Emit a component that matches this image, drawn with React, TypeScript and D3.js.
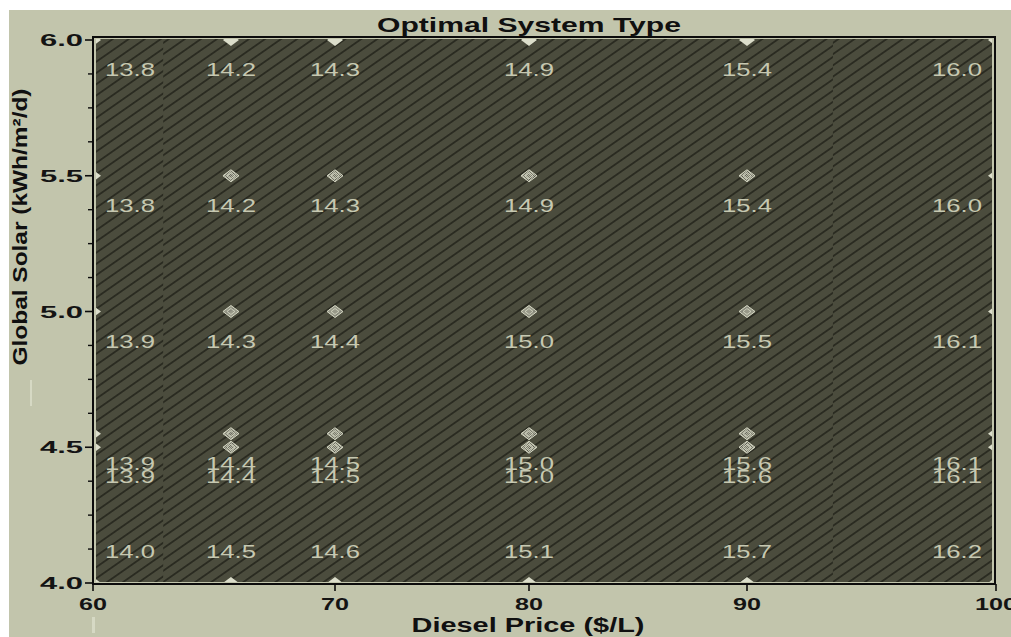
import React, { useEffect } from "react";
import * as d3 from "d3";

// ---- data ----
const dieselPrices = [60, 65.7, 70, 80, 90, 100];
const solarLevels = [6.0, 5.5, 5.0, 4.55, 4.5, 4.0];
const costAtSolar60 = [13.8, 14.2, 14.3, 14.9, 15.4, 16.0];
const costAtSolar55 = [13.8, 14.2, 14.3, 14.9, 15.4, 16.0];
const costAtSolar50 = [13.9, 14.3, 14.4, 15.0, 15.5, 16.1];
const costAtSolar455 = [13.9, 14.4, 14.5, 15.0, 15.6, 16.1];
const costAtSolar45 = [13.9, 14.4, 14.5, 15.0, 15.6, 16.1];
const costAtSolar40 = [14.0, 14.5, 14.6, 15.1, 15.7, 16.2];
const costRows = [costAtSolar60, costAtSolar55, costAtSolar50, costAtSolar455, costAtSolar45, costAtSolar40];
const xTickValues = [60, 70, 80, 90, 100];
const yTickValues = [4.0, 4.5, 5.0, 5.5, 6.0];
const hatchBreaks = [62.9, 93.45];
const titleText = "Optimal System Type";
const xLabelText = "Diesel Price ($/L)";
const yLabelText = "Global Solar (kWh/m\u00b2/d)";

const W = 1011;
const H = 637;
const FONT = "Arial, 'Liberation Sans', sans-serif";

export default function App() {
  useEffect(() => {
    document.body.style.margin = "0";
  }, []);

  const x = d3.scaleLinear().domain(xTickValues).range([93, 335, 529, 747, 996]);
  const y = d3.scaleLinear().domain([4, 6]).range([583, 40]);

  const frame = { l: 93, r: 995, t: 37, b: 584 };
  const fill = { l: 96, r: 992, t: 39, b: 582 };

  const yMinor = d3.range(4, 6.0001, 0.125).filter((v) => !yTickValues.some((t) => Math.abs(t - v) < 1e-6));

  const regionEdges = [fill.l, ...hatchBreaks.map((v) => x(v)), fill.r];
  const regionOffsets = [0, 8, 4];

  const diamond = "M0,-6L8,0L0,6L-8,0Z";
  const innerDiamond = "M0,-3L4,0L0,3L-4,0Z";

  const points: { xv: number; yv: number; val: number }[] = [];
  solarLevels.forEach((s, i) => {
    dieselPrices.forEach((p, j) => {
      points.push({ xv: p, yv: s, val: costRows[i][j] });
    });
  });

  const xMin = d3.min(dieselPrices)!;
  const xMax = d3.max(dieselPrices)!;
  const yMin = d3.min(solarLevels)!;
  const yMax = d3.max(solarLevels)!;

  return (
    <svg width={W} height={H} style={{ display: "block", background: "#ffffff" }} fontFamily={FONT}>
      <defs>
        {regionOffsets.map((off, i) => (
          <pattern
            key={i}
            id={`hatch${i}`}
            patternUnits="userSpaceOnUse"
            width={9.2}
            height={10}
            patternTransform={`translate(${off},0) rotate(55)`}
          >
            <line x1={4.6} y1={-1} x2={4.6} y2={11} stroke="#16160f" strokeWidth={1.15} />
          </pattern>
        ))}
        <pattern id="dots" patternUnits="userSpaceOnUse" width={2} height={2}>
          <rect x={0} y={0} width={1} height={1} fill="#e2e3d2" />
          <rect x={1} y={1} width={1} height={1} fill="#e2e3d2" />
        </pattern>
        <clipPath id="plotClip">
          <rect x={fill.l} y={fill.t} width={fill.r - fill.l} height={fill.b - fill.t} />
        </clipPath>
      </defs>

      {/* panel background */}
      <rect x={9} y={10} width={W - 9} height={H - 10} fill="#c2c5ac" />
      <rect x={30} y={380} width={2} height={26} fill="#d6d9c4" />
      <rect x={92} y={617} width={3} height={16} fill="#d6d9c4" />

      {/* title */}
      <text
        x={529}
        y={32}
        textAnchor="middle"
        fontSize={21}
        fontWeight="bold"
        fill="#101010"
        textLength={304}
        lengthAdjust="spacingAndGlyphs"
      >
        {titleText}
      </text>

      {/* plot fill with hatch regions */}
      <rect x={fill.l} y={fill.t} width={fill.r - fill.l} height={fill.b - fill.t} fill="#4b4c3d" />
      {regionOffsets.map((_, i) => (
        <rect
          key={i}
          x={regionEdges[i]}
          y={fill.t}
          width={regionEdges[i + 1] - regionEdges[i]}
          height={fill.b - fill.t}
          fill={`url(#hatch${i})`}
        />
      ))}

      {/* markers */}
      <g clipPath="url(#plotClip)">
        {points.map((p, i) => {
          const onEdge = p.xv === xMin || p.xv === xMax || p.yv === yMin || p.yv === yMax;
          return (
            <g key={i} transform={`translate(${x(p.xv)},${y(p.yv)})`}>
              {onEdge ? (
                <path d={diamond} fill="#dcdecb" />
              ) : (
                <>
                  <path d={diamond} fill="url(#dots)" stroke="#d8dac6" strokeWidth={1} />
                  <path d={innerDiamond} fill="none" stroke="#d8dac6" strokeWidth={0.8} />
                </>
              )}
            </g>
          );
        })}
      </g>

      {/* value labels */}
      <g>
        {points.map((p, i) => {
          const px = Math.min(Math.max(x(p.xv), frame.l + 37), frame.r - 38);
          const base = y(p.yv) + 36 > fill.b - 10 ? y(p.yv) - 25 : y(p.yv) + 36;
          return (
            <text
              key={i}
              x={px}
              y={base}
              textAnchor="middle"
              fontSize={19}
              fill="#c6c8b1"
              textLength={50}
              lengthAdjust="spacingAndGlyphs"
            >
              {p.val.toFixed(1)}
            </text>
          );
        })}
      </g>

      {/* frame */}
      <rect
        x={frame.l}
        y={frame.t}
        width={frame.r - frame.l}
        height={frame.b - frame.t}
        fill="none"
        stroke="#0c0c0c"
        strokeWidth={2}
      />

      {/* y axis ticks */}
      {yTickValues.map((t) => (
        <g key={t}>
          <line x1={85} x2={frame.l} y1={y(t)} y2={y(t)} stroke="#0c0c0c" strokeWidth={1.6} />
          <text
            x={83}
            y={y(t) + 6}
            textAnchor="end"
            fontSize={17}
            fontWeight="bold"
            fill="#141414"
            textLength={43}
            lengthAdjust="spacingAndGlyphs"
          >
            {t.toFixed(1)}
          </text>
        </g>
      ))}
      {yMinor.map((t) => (
        <line key={t} x1={88} x2={frame.l} y1={y(t)} y2={y(t)} stroke="#0c0c0c" strokeWidth={1.4} />
      ))}

      {/* x axis ticks */}
      {xTickValues.map((t) => (
        <g key={t}>
          <line x1={x(t)} x2={x(t)} y1={frame.b} y2={frame.b + 7} stroke="#0c0c0c" strokeWidth={1.6} />
          <text
            x={x(t)}
            y={610}
            textAnchor="middle"
            fontSize={17}
            fontWeight="bold"
            fill="#141414"
            textLength={14 * String(t).length}
            lengthAdjust="spacingAndGlyphs"
          >
            {String(t)}
          </text>
        </g>
      ))}

      {/* axis titles */}
      <text
        x={528}
        y={632}
        textAnchor="middle"
        fontSize={20}
        fontWeight="bold"
        fill="#101010"
        textLength={233}
        lengthAdjust="spacingAndGlyphs"
      >
        {xLabelText}
      </text>
      <text
        transform="translate(27,227) rotate(-90)"
        textAnchor="middle"
        fontSize={20}
        fontWeight="bold"
        fill="#101010"
        textLength={277}
        lengthAdjust="spacingAndGlyphs"
      >
        {yLabelText}
      </text>
    </svg>
  );
}
